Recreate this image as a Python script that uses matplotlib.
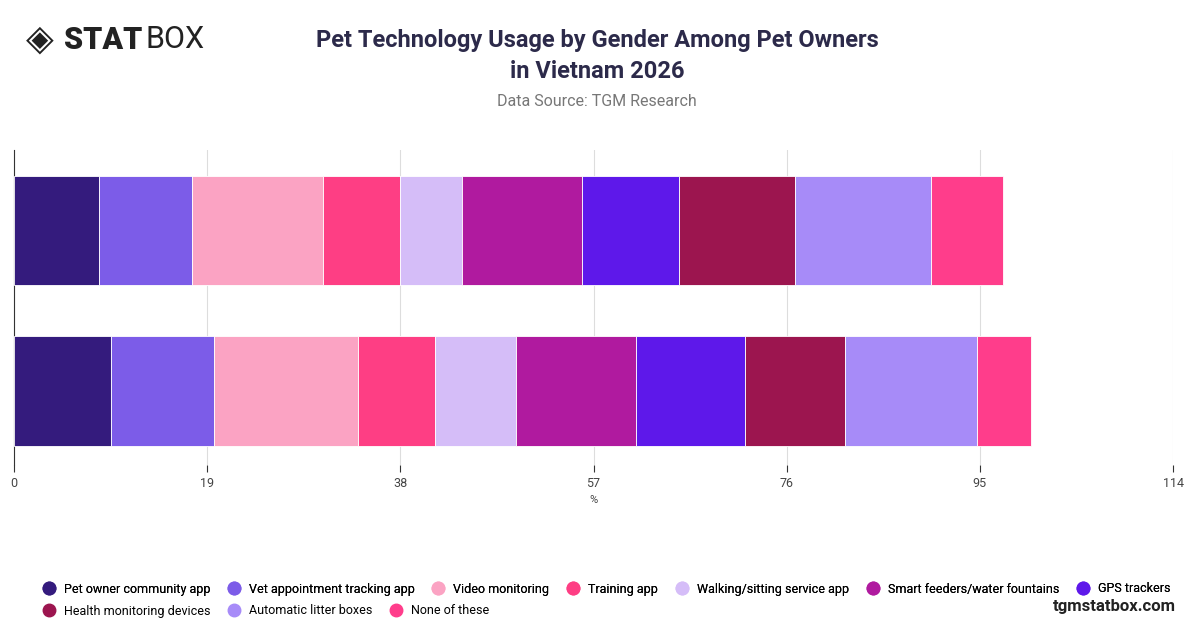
import numpy as np
import matplotlib
matplotlib.use('Agg')
import matplotlib.pyplot as plt

groups = ['Male', 'Female']
categories = ['Pet owner community app', 'Vet appointment tracking app', 'Video monitoring',
              'Training app', 'Walking/sitting service app', 'Smart feeders/water fountains',
              'GPS trackers', 'Health monitoring devices', 'Automatic litter boxes', 'None of these']
male = [8.4, 9.1, 12.9, 7.6, 6.1, 11.8, 9.5, 11.4, 13.4, 7.1]
female = [9.5, 10.2, 14.1, 7.6, 8.0, 11.8, 10.7, 9.8, 13.0, 5.3]
colors = ['#341b7d', '#7c5ce8', '#fba3c3', '#fe3e84', '#d5bdf8', '#b01a9f',
          '#5e18ea', '#9c154f', '#a78bf8', '#ff3d8b']
ticks = [0, 19, 38, 57, 76, 95, 114]

plt.rcParams['font.family'] = ['Roboto', 'DejaVu Sans']
fig = plt.figure(figsize=(12, 6.28), dpi=100)
ax = fig.add_axes([14 / 1200, 1 - 465 / 628, 1159 / 1200, 315 / 628])

data = np.array([male, female])
left = np.zeros(2)
for i, cat in enumerate(categories):
    ax.barh([0, 1], data[:, i], left=left, height=0.68, color=colors[i],
            edgecolor='white', linewidth=0.6, zorder=3)
    left += data[:, i]

ax.set_xlim(0, 114)
ax.set_ylim(1.46, -0.5)
ax.set_xticks(ticks)
ax.set_xticklabels([str(t) for t in ticks], fontsize=9, color='#444444')
ax.set_yticks([])
ax.grid(axis='x', color='#dddddd', linewidth=0.8, zorder=0)
for s in ['top', 'right', 'bottom']:
    ax.spines[s].set_visible(False)
ax.spines['left'].set_color('#333333')
ax.tick_params(axis='x', length=5, color='#333333')
ax.set_xlabel('%', fontsize=8, color='#444444', labelpad=4)

fig.text(0.4975, 1 - 40 / 628, 'Pet Technology Usage by Gender Among Pet Owners', ha='center',
         va='center', fontsize=17, fontweight='bold', color='#2c2a4a')
fig.text(0.4975, 1 - 71 / 628, 'in Vietnam 2026', ha='center', va='center',
         fontsize=17, fontweight='bold', color='#2c2a4a')
fig.text(0.4975, 1 - 101 / 628, 'Data Source: TGM Research', ha='center', va='center',
         fontsize=11.5, color='#777777')

fig.text(26 / 1200, 1 - 40 / 628, '◈', ha='left', va='center', fontsize=26, color='#222222',
         family=['DejaVu Sans'])
fig.text(64 / 1200, 1 - 40 / 628, 'STAT', ha='left', va='center', fontsize=22,
         fontweight='black', color='#222222')
fig.text(146 / 1200, 1 - 40 / 628, 'BOX', ha='left', va='center', fontsize=22, color='#222222')
fig.text(1176 / 1200, 1 - 607 / 628, 'tgmstatbox.com', ha='right', va='center', fontsize=12,
         fontweight='bold', color='#222222')

handles = [plt.Line2D([], [], marker='o', linestyle='', markersize=9, color=c) for c in colors]
leg1 = fig.legend(handles[:7], categories[:7], loc='center left', bbox_to_anchor=(36 / 1200, 1 - 589 / 628),
                  ncol=7, frameon=False, fontsize=9, handletextpad=0.2, columnspacing=0.9,
                  borderaxespad=0, borderpad=0)
fig.add_artist(leg1)
fig.legend(handles[7:], categories[7:], loc='center left', bbox_to_anchor=(36 / 1200, 1 - 611 / 628),
           ncol=3, frameon=False, fontsize=9, handletextpad=0.2, columnspacing=0.9,
           borderaxespad=0, borderpad=0)

fig.savefig('out.png', dpi=100)
